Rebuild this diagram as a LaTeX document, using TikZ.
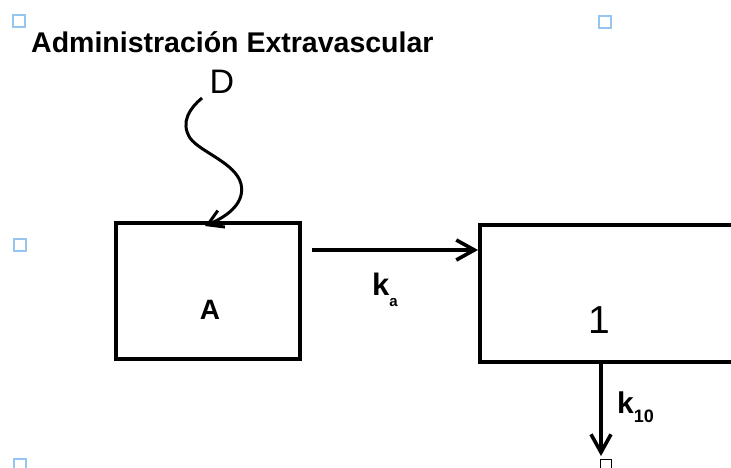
\documentclass[tikz,border=0pt]{standalone}
\usepackage{fontspec}
\setmainfont{Liberation Sans}
\usetikzlibrary{arrows.meta}
\definecolor{markblue}{RGB}{150,198,240}
\begin{document}
\begin{tikzpicture}[x=1pt,y=-1pt,
  compbox/.style={draw=black,line width=4pt,rectangle,inner sep=0pt},
  flow/.style={line width=3.6pt,-{Straight Barb[length=18pt,width=20pt,line width=3.6pt]}},
  marker/.style={draw=markblue,line width=2pt,minimum size=12pt,inner sep=0pt,rectangle},
  lbl/.style={inner sep=0pt,anchor=base west}]
\useasboundingbox (0,0) rectangle (731,468);
\clip (0,0) rectangle (731,468);

% title
\node[lbl] (title) at (31,53) {\fontsize{28.5}{30}\selectfont\bfseries Administración Extravascular};

% corner markers
\node[marker] (m1) at (19,21) {};
\node[marker] (m2) at (605,22) {};
\node[marker] (m3) at (20,245) {};
\node[marker] (m4) at (20,465) {};

% compartments
\node[compbox,minimum width=184pt,minimum height=136pt] (boxA) at (208,291) {};
\node[compbox,minimum width=270pt,minimum height=137pt] (box1) at (615,293.5) {};
\node[inner sep=0pt] (labA) at (210,310) {\fontsize{28}{29}\selectfont\bfseries A};
\node[inner sep=0pt] (lab1) at (599,320) {\fontsize{39}{40}\selectfont 1};

% dose
\node[inner sep=0pt] (D) at (222,82) {\fontsize{34}{35}\selectfont D};
\coordinate (dstart) at (202,98);
\coordinate (dend) at (205,226);
\draw[line width=3pt,-{Straight Barb[length=15pt,width=18pt,line width=3pt]}]
  (dstart) .. controls (190,108) and (180,122) .. (190,138)
  .. controls (200,152) and (236,163) .. (241,184)
  .. controls (245,202) and (230,215) .. (dend);

% absorption
\coordinate (kaS) at (312,250);
\draw[flow] (kaS) -- (kaS -| box1.west) coordinate (kaE);
\node[lbl] (ka) at (372,295) {\fontsize{31}{32}\selectfont\bfseries k\raisebox{-11pt}{\fontsize{15}{15}\selectfont a}};

% elimination
\coordinate (kout) at (601,456);
\draw[flow] (box1.south -| kout) -- (kout);
\node[lbl] (k10) at (617,413) {\fontsize{30}{31}\selectfont\bfseries k\raisebox{-9pt}{\fontsize{18}{18}\selectfont 10}};
\node[draw=black,line width=1.6pt,minimum size=11pt,inner sep=0pt] (m5) at (606,465) {};
\end{tikzpicture}
\end{document}
